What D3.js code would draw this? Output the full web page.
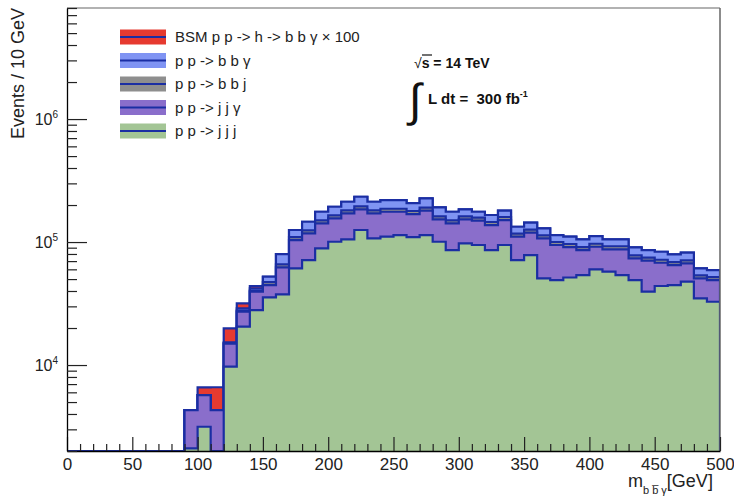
<!DOCTYPE html>
<html>
<head>
<meta charset="utf-8">
<script src="https://cdn.jsdelivr.net/npm/d3@7"></script>
<style>
  body { margin: 0; background: #fff; }
  text { font-family: "Liberation Sans", Arial, Helvetica, sans-serif; }
</style>
</head>
<body>
<div id="chart"></div>
<script>
// bin lower edges, 10 GeV bins from 0 to 500
const binLow = d3.range(0, 500, 10);

// events per bin, stacked bottom -> top
const jjj = [0, 0, 0, 0, 0, 0, 0, 0, 0, 2100, 3150, 1200, 9700, 20500, 28000, 35500, 37500, 61200, 71400, 88900,
  100600, 105200, 125300, 107200, 110500, 114000, 109800, 114000, 100600, 86100, 97600, 94600, 86100, 94600, 71400,
  78400, 50700, 49100, 51500, 53900, 60000, 57400, 53900, 49100, 39500, 43900, 44700, 47600, 34900, 32700];
const jjy = [0, 0, 0, 0, 0, 0, 0, 0, 0, 2200, 2550, 3100, 5200, 6650, 11460, 9200, 24800, 42600, 46300, 53100,
  55300, 66000, 59200, 64000, 65900, 62400, 59200, 65800, 52400, 55900, 55400, 54500, 51400, 56400, 39100,
  40700, 56500, 45500, 39600, 32200, 31600, 29900, 33400, 24600, 31000, 24000, 20300, 19500, 15800, 16400];
const bbj = [0, 0, 0, 0, 0, 0, 0, 0, 0, 0, 0, 0, 150, 600, 800, 2600, 3600, 6000, 6800, 8200,
  9000, 9900, 10700, 9900, 10200, 10200, 9800, 10400, 8900, 8200, 8900, 8600, 8000, 8800, 6400,
  6900, 6200, 5500, 5300, 5000, 5300, 5100, 5100, 4300, 4100, 3900, 3800, 3900, 2900, 2800];
const bby = [0, 0, 0, 0, 0, 0, 0, 0, 0, 0, 0, 0, 250, 1170, 1790, 4900, 14000, 15500, 21800, 26200,
  28800, 31600, 38400, 31600, 33000, 33000, 28800, 36500, 29800, 26200, 22700, 18700, 20400, 20000, 16300,
  17600, 15900, 13900, 14100, 14100, 15000, 12800, 12800, 12600, 11500, 11600, 10700, 10900, 7500, 7200];
const bsm = [0, 0, 0, 0, 0, 0, 0, 0, 0, 0, 880, 2300, 4590, 2840, 1860, 200, 0, 0, 0, 0,
  0, 0, 0, 0, 0, 0, 0, 0, 0, 0, 0, 0, 0, 0, 0,
  0, 0, 0, 0, 0, 0, 0, 0, 0, 0, 0, 0, 0, 0, 0];

const keys = ["jjj", "jjy", "bbj", "bby", "bsm"];
const labels = {
  bsm: "BSM p p -> h -> b b \u03b3 \u00d7 100",
  bby: "p p -> b b \u03b3",
  bbj: "p p -> b b j",
  jjy: "p p -> j j \u03b3",
  jjj: "p p -> j j j"
};
const fills = { bsm: "#e63a30", bby: "#8094f3", bbj: "#8e8e8e", jjy: "#8a6ecb", jjj: "#a3c595" };
const lineColor = "#1b2ea3";

const xTickLabels = d3.range(0, 501, 50);

const width = 734, height = 496;
const plot = { left: 67, right: 720, top: 8, bottom: 451 };

const svg = d3.select("#chart").append("svg")
  .attr("width", width)
  .attr("height", height);

const x = d3.scaleLinear().domain([0, 500]).range([plot.left, plot.right]);
const y = d3.scaleLog().domain([2000, 8e6]).range([plot.bottom, plot.top]).clamp(true);

svg.append("clipPath").attr("id", "clip")
  .append("rect")
  .attr("x", plot.left).attr("y", plot.top)
  .attr("width", plot.right - plot.left).attr("height", plot.bottom - plot.top);

// stack the samples
const rows = binLow.map((lo, i) => ({ lo: lo, jjj: jjj[i], jjy: jjy[i], bbj: bbj[i], bby: bby[i], bsm: bsm[i] }));
const stacked = d3.stack().keys(keys)(rows);

const g = svg.append("g").attr("clip-path", "url(#clip)");

// draw the cumulative histograms from the top one down, like THStack does
stacked.slice().reverse().forEach(layer => {
  const pts = [];
  layer.forEach(d => {
    const v = Math.max(d[1], 1);
    pts.push({ x: x(d.data.lo), y: y(v) });
    pts.push({ x: x(d.data.lo + 10), y: y(v) });
  });

  g.append("path")
    .datum(pts)
    .attr("fill", fills[layer.key])
    .attr("d", d3.area().x(d => d.x).y0(plot.bottom).y1(d => d.y));

  const outline = [{ x: x(0), y: plot.bottom }].concat(pts, [{ x: x(500), y: plot.bottom }]);
  g.append("path")
    .datum(outline)
    .attr("fill", "none")
    .attr("stroke", lineColor)
    .attr("stroke-width", 2.2)
    .attr("d", d3.line().x(d => d.x).y(d => d.y));
});

// frame
svg.append("line").attr("x1", plot.left).attr("x2", plot.right).attr("y1", plot.top).attr("y2", plot.top)
  .attr("stroke", "#666").attr("stroke-width", 1.2);
svg.append("line").attr("x1", plot.right).attr("x2", plot.right).attr("y1", plot.top).attr("y2", plot.bottom)
  .attr("stroke", "#666").attr("stroke-width", 1.5);

// x axis
const xAxis = svg.append("g")
  .attr("transform", `translate(0,${plot.bottom})`)
  .call(d3.axisBottom(x)
    .tickValues(d3.range(0, 501, 10))
    .tickSizeInner(-7)
    .tickSizeOuter(0)
    .tickFormat(d => xTickLabels.includes(d) ? d : ""));
xAxis.select(".domain").attr("stroke", "#000").attr("stroke-width", 1.3);
xAxis.selectAll(".tick line").attr("stroke", "#222").attr("stroke-width", 1.2)
  .attr("y2", d => xTickLabels.includes(d) ? -14 : -7);
xAxis.selectAll(".tick text")
  .attr("y", 7)
  .attr("dy", "0.71em")
  .style("font-size", "17px")
  .attr("fill", "#222");

// y axis, log
const yMajor = [1e4, 1e5, 1e6];
const yTicks = [];
[1e3, 1e4, 1e5, 1e6].forEach(dec => {
  for (let k = 1; k <= 9; k++) {
    const v = k * dec;
    if (v >= 2000 && v <= 8e6) yTicks.push(v);
  }
});
const yAxis = svg.append("g")
  .attr("transform", `translate(${plot.left},0)`)
  .call(d3.axisLeft(y)
    .tickValues(yTicks)
    .tickSizeInner(-10)
    .tickSizeOuter(0)
    .tickFormat(""));
yAxis.select(".domain").attr("stroke", "#000").attr("stroke-width", 1.3);
yAxis.selectAll(".tick line").attr("stroke", "#222").attr("stroke-width", 1.2)
  .attr("x2", d => yMajor.includes(d) ? 20 : 10);

yMajor.forEach(v => {
  const t = svg.append("text")
    .attr("x", plot.left - 9)
    .attr("y", y(v) + 6)
    .attr("text-anchor", "end")
    .style("font-size", "16px")
    .attr("fill", "#222");
  t.append("tspan").text("10");
  t.append("tspan").attr("dy", -7).style("font-size", "10px").text(Math.round(Math.log10(v)));
});

// axis titles
svg.append("text")
  .attr("transform", `translate(24,${plot.top}) rotate(-90)`)
  .attr("text-anchor", "end")
  .style("font-size", "18px")
  .attr("fill", "#222")
  .text("Events / 10 GeV");

const xt = svg.append("text")
  .attr("x", 628)
  .attr("y", 487)
  .style("font-size", "18px")
  .attr("fill", "#222");
xt.append("tspan").text("m");
xt.append("tspan").attr("dy", 7).style("font-size", "11px").text("b b\u0305 \u03b3");
xt.append("tspan").attr("dy", -7).text("[GeV]");

// legend
const legendKeys = keys.slice().reverse();
const legend = svg.append("g");
legendKeys.forEach((k, i) => {
  const cy = 37 + i * 23.5;
  legend.append("rect")
    .attr("x", 120).attr("y", cy - 7.5)
    .attr("width", 46).attr("height", 15)
    .attr("fill", fills[k]);
  legend.append("line")
    .attr("x1", 120).attr("x2", 166).attr("y1", cy).attr("y2", cy)
    .attr("stroke", lineColor).attr("stroke-width", 2.2);
  legend.append("text")
    .attr("x", 175).attr("y", cy + 5)
    .style("font-size", "15px")
    .attr("fill", "#222")
    .text(labels[k]);
});

// energy and luminosity labels
const sq = svg.append("text")
  .attr("x", 414).attr("y", 68)
  .style("font-size", "14px").style("font-weight", "bold")
  .attr("fill", "#111");
sq.append("tspan").style("font-weight", "normal").text("\u221a");
sq.append("tspan").text("s = 14 TeV");
svg.append("line").attr("x1", 422).attr("x2", 432).attr("y1", 55).attr("y2", 55)
  .attr("stroke", "#111").attr("stroke-width", 1.2);

svg.append("text")
  .attr("x", 409).attr("y", 116)
  .style("font-size", "46px")
  .attr("fill", "#111")
  .text("\u222b");
const lum = svg.append("text")
  .attr("x", 428).attr("y", 104)
  .style("font-size", "15px").style("font-weight", "bold")
  .attr("fill", "#111");
lum.append("tspan").text("L dt =\u00a0\u00a0300 fb");
lum.append("tspan").attr("dy", -7).style("font-size", "9px").text("-1");
</script>
</body>
</html>
